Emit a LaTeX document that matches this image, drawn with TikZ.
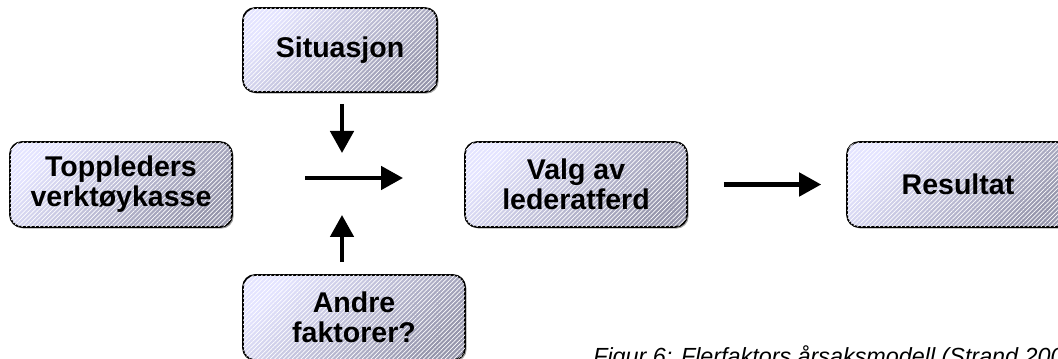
\documentclass[tikz,border=0pt]{standalone}
\usepackage{fontspec}
\setmainfont{Liberation Sans}
\usetikzlibrary{arrows.meta,shadows,patterns.meta}

\definecolor{lavlight}{RGB}{228,228,255}
\definecolor{lavdark}{RGB}{150,150,172}

\begin{document}
\begin{tikzpicture}

      \useasboundingbox (0,0) rectangle (26.45,8.95);

      \begin{scope}[every node/.style={draw=black,line width=1.2pt,rounded corners=0.3cm,
          top color=lavlight,bottom color=lavdark,shading angle=45,
          drop shadow={shadow xshift=0.04cm,shadow yshift=-0.04cm,opacity=0.7},
          postaction={pattern={Lines[angle=45,distance=2.2pt,line width=0.5pt]},
            pattern color=white,fill opacity=0.12},
          inner sep=0pt,minimum height=2.125cm,minimum width=5.55cm,align=center,
          font=\fontsize{20.3}{21.5}\selectfont\bfseries}]
        \node (verktoy) at (3.025,4.3375) {Toppleders\\verktøykasse};
        \node[minimum width=4.85cm,minimum height=2.1cm] (situasjon) at (8.5,7.7) {Situasjon};
        \node (andre) at (8.85,1.0125) {Andre\\faktorer?};
        \node (valg) at (14.4,4.3375) {Valg av\\lederatferd};
        \node (resultat) at (23.95,4.3375) {Resultat};
      \end{scope}

      \coordinate (join) at (8.55,4.5);
      \coordinate (mixL) at (7.625,4.5);
      \coordinate (mixR) at (10.075,4.5);

      \begin{scope}[line width=3pt,-{Triangle[length=0.55cm,width=0.58cm]}]
        \draw[shorten <=0.275cm,shorten >=0.625cm] (situasjon.south -| join) -- (join);
        \draw[shorten <=0.3cm,shorten >=0.925cm] (andre.north -| join) -- (join);
        \draw (mixL) -- (mixR);
        \draw[shorten <=0.9cm,shorten >=0.625cm] (valg.east) -- (resultat.west);
      \end{scope}

      \node[anchor=base west,inner sep=0pt,font=\fontsize{16.6}{18}\selectfont\itshape]
        (caption) at (14.825,-0.1625) {Figur 6: Flerfaktors årsaksmodell (Strand 2004)};

    \end{tikzpicture}
\end{document}
